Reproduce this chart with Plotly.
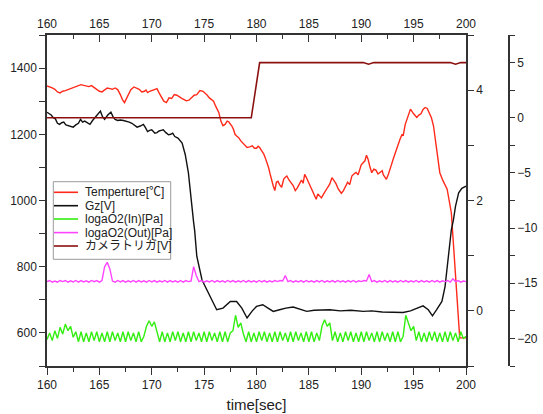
import numpy as np
import plotly.graph_objects as go

# ---------------- data ----------------
series_names = ["Temperture[\u2103]", "Gz[V]", "logaO2(In)[Pa]", "logaO2(Out)[Pa]", "カメラトリガ[V]"]

# temperature readings (time [s], value)
temp_pts = [
    (160.0, 1346), (160.25, 1344), (160.5, 1340), (160.75, 1336), (161.0, 1328), (161.25, 1325),
    (161.5, 1330), (161.75, 1332), (162.0, 1335), (162.25, 1338), (162.5, 1340), (162.75, 1342),
    (163.0, 1346), (163.25, 1350), (163.5, 1348), (163.75, 1345), (164.0, 1344), (164.25, 1347),
    (164.5, 1341), (164.75, 1336), (165.0, 1330), (165.25, 1328), (165.5, 1334), (165.75, 1340),
    (166.0, 1338), (166.25, 1336), (166.5, 1340), (166.75, 1335), (167.0, 1320), (167.2, 1305),
    (167.4, 1296), (167.6, 1310), (167.8, 1320), (168.0, 1335), (168.3, 1343), (168.55, 1340),
    (168.8, 1336), (169.05, 1328), (169.3, 1330), (169.45, 1334), (169.6, 1326), (169.8, 1330),
    (170.0, 1332), (170.25, 1336), (170.5, 1338), (170.7, 1325), (170.9, 1315), (171.15, 1300),
    (171.4, 1296), (171.65, 1310), (171.9, 1308), (172.15, 1320), (172.4, 1318), (172.65, 1312),
    (172.9, 1308), (173.1, 1305), (173.3, 1301), (173.55, 1303), (173.8, 1310), (174.05, 1318),
    (174.3, 1320), (174.6, 1332), (174.9, 1330), (175.1, 1325), (175.3, 1318), (175.5, 1310),
    (175.7, 1306), (175.9, 1300), (176.1, 1285), (176.4, 1266), (176.6, 1240), (176.8, 1226),
    (177.0, 1230), (177.2, 1240), (177.35, 1238), (177.5, 1232), (177.65, 1225), (177.8, 1215),
    (177.95, 1200), (178.1, 1195), (178.3, 1190), (178.5, 1180), (178.8, 1170), (179.1, 1160),
    (179.35, 1162), (179.6, 1165), (179.8, 1158), (180.0, 1158), (180.15, 1164), (180.3, 1160),
    (180.5, 1150), (180.7, 1140), (180.85, 1128), (181.0, 1115), (181.15, 1100), (181.3, 1080),
    (181.45, 1060), (181.6, 1044), (181.75, 1030), (181.9, 1055), (182.05, 1058), (182.2, 1048),
    (182.4, 1040), (182.6, 1065), (182.75, 1070), (182.9, 1074), (183.1, 1062), (183.3, 1055),
    (183.5, 1045), (183.7, 1030), (183.9, 1038), (184.1, 1050), (184.3, 1062), (184.45, 1052),
    (184.6, 1079), (184.75, 1070), (184.9, 1060), (185.1, 1042), (185.3, 1030), (185.5, 1018),
    (185.7, 1004), (185.85, 1020), (186.0, 1015), (186.2, 1008), (186.4, 1019), (186.6, 1032),
    (186.8, 1040), (187.0, 1050), (187.2, 1069), (187.4, 1060), (187.6, 1050), (187.8, 1035),
    (188.1, 1022), (188.3, 1030), (188.5, 1045), (188.7, 1055), (188.9, 1048), (189.1, 1074),
    (189.3, 1080), (189.5, 1085), (189.7, 1078), (189.9, 1100), (190.0, 1108), (190.2, 1115),
    (190.35, 1120), (190.5, 1137), (190.65, 1125), (190.8, 1105), (191.0, 1084), (191.2, 1095),
    (191.4, 1092), (191.6, 1080), (191.8, 1084), (192.0, 1090), (192.1, 1078), (192.25, 1070),
    (192.4, 1064), (192.6, 1080), (192.75, 1098), (192.9, 1110), (193.1, 1130), (193.3, 1150),
    (193.5, 1165), (193.7, 1185), (193.9, 1200), (194.0, 1195), (194.2, 1230), (194.4, 1250),
    (194.55, 1265), (194.7, 1276), (195.0, 1262), (195.15, 1255), (195.3, 1251), (195.5, 1258),
    (195.7, 1262), (195.9, 1275), (196.1, 1281), (196.3, 1278), (196.5, 1262), (196.7, 1250),
    (196.9, 1225), (197.2, 1150), (197.5, 1084), (197.8, 1060), (198.2, 1034), (198.6, 963),
    (199.0, 770), (199.4, 585), (200.0, 585)]

gz_pts = [
    (160.0, 3.60), (160.2, 3.57), (160.4, 3.55), (160.6, 3.50), (160.8, 3.48), (161.0, 3.40),
    (161.2, 3.38), (161.4, 3.41), (161.6, 3.42), (161.8, 3.37), (162.0, 3.36), (162.25, 3.35),
    (162.5, 3.33), (162.75, 3.37), (163.0, 3.40), (163.2, 3.47), (163.4, 3.42), (163.6, 3.44),
    (163.85, 3.41), (164.1, 3.38), (164.35, 3.45), (164.6, 3.50), (164.85, 3.55), (165.1, 3.62),
    (165.3, 3.52), (165.5, 3.47), (165.8, 3.55), (166.1, 3.60), (166.3, 3.52), (166.5, 3.47),
    (166.75, 3.45), (167.0, 3.46), (167.3, 3.45), (167.6, 3.44), (167.85, 3.42), (168.1, 3.40),
    (168.35, 3.36), (168.6, 3.33), (168.9, 3.35), (169.2, 3.38), (169.4, 3.32), (169.6, 3.25),
    (169.8, 3.27), (170.0, 3.28), (170.15, 3.25), (170.3, 3.22), (170.5, 3.23), (170.7, 3.26),
    (170.9, 3.27), (171.1, 3.28), (171.35, 3.23), (171.6, 3.19), (171.8, 3.20), (172.0, 3.22),
    (172.2, 3.16), (172.5, 3.13), (172.9, 3.04), (173.2, 2.83), (173.5, 2.50), (173.8, 1.89),
    (174.0, 1.60), (174.1, 1.45), (174.3, 0.99), (174.8, 0.56), (175.4, 0.32), (175.8, 0.15),
    (176.2, 0.02), (176.8, 0.05), (177.5, 0.17), (178.1, 0.17), (178.6, 0.05), (179.1, -0.13),
    (179.6, 0.00), (180.0, 0.08), (180.6, 0.11), (181.1, 0.05), (181.6, -0.01), (182.2, 0.02),
    (182.8, 0.05), (183.5, 0.07), (184.2, 0.02), (184.8, -0.01), (185.5, 0.01), (186.2, 0.02),
    (187.0, 0.02), (188.0, 0.00), (189.0, 0.01), (190.2, -0.01), (191.0, 0.00), (192.0, -0.02),
    (193.0, -0.02), (194.0, -0.03), (194.7, 0.00), (195.3, 0.05), (195.9, 0.09), (196.4, 0.02),
    (196.8, -0.09), (197.2, 0.02), (197.7, 0.17), (198.0, 0.44), (198.3, 0.99), (198.6, 1.47),
    (198.8, 1.65), (199.0, 1.90), (199.3, 2.14), (199.6, 2.22), (200.0, 2.26)]

o2_start, o2_step = 160.0, 0.25
o2_in_rows = [
    [-20.1, -19.5, -20.2, -19.3], [-20.0, -19.0, -19.6, -18.7], [-19.3, -18.9, -19.9, -19.4],
    [-20.3, -19.4, -20.3, -19.5], [-20.3, -19.4, -20.2, -19.4], [-20.3, -19.5, -20.3, -19.4],
    [-20.3, -19.4, -20.2, -19.5], [-20.3, -19.4, -20.3, -19.4], [-20.2, -19.5, -20.3, -19.4],
    [-20.3, -19.8, -18.9, -18.4], [-18.9, -18.5, -19.4, -20.3], [-19.4, -20.3, -19.5, -20.3],
    [-19.4, -20.2, -19.4, -20.3], [-19.5, -20.3, -19.4, -20.3], [-19.4, -20.2, -19.5, -20.3],
    [-19.4, -20.3, -19.4, -20.2], [-19.5, -20.3, -19.4, -20.3], [-19.4, -20.3, -19.5, -19.3],
    [-17.9, -19.0, -18.6, -19.6], [-20.3, -19.4, -20.3, -19.5], [-20.3, -19.4, -20.2, -19.4],
    [-20.3, -19.5, -20.3, -19.4], [-20.3, -19.4, -20.2, -19.5], [-20.3, -19.4, -20.3, -19.4],
    [-20.2, -19.5, -20.3, -19.4], [-20.3, -19.4, -20.3, -19.5], [-20.2, -18.9, -18.3, -18.9],
    [-18.6, -20.2, -19.4, -20.3], [-19.5, -20.3, -19.4, -20.2], [-19.4, -20.3, -19.5, -20.3],
    [-19.4, -20.3, -19.4, -20.2], [-19.5, -20.3, -19.4, -20.3], [-19.4, -20.2, -19.5, -20.3],
    [-19.4, -20.3, -19.4, -20.3], [-19.8, -17.9, -18.6, -19.3], [-18.9, -20.2, -19.4, -20.3],
    [-19.5, -20.3, -19.4, -20.2], [-19.4, -20.3, -19.5, -20.3], [-19.4, -20.3, -19.4, -20.2],
    [-19.5, -20.3, -19.4, -20.0], [-19.8]]
o2_out_rows = [
    [-14.85, -14.75, -14.90, -14.80], [-14.90, -14.75, -14.85, -14.75], [-14.90, -14.78, -14.88, -14.75],
    [-14.90, -14.76, -14.88, -14.78], [-14.90, -14.75, -14.86, -14.76], [-14.90, -14.75, -13.50, -13.10],
    [-13.70, -14.80, -14.90, -14.75], [-14.88, -14.76, -14.90, -14.78], [-14.88, -14.75, -14.90, -14.76],
    [-14.88, -14.78, -14.90, -14.75], [-14.88, -14.76, -14.90, -14.78], [-14.88, -14.75, -14.90, -14.76],
    [-14.88, -14.78, -14.90, -14.75], [-14.90, -14.76, -14.85, -14.80], [-13.50, -14.30, -14.85, -14.75],
    [-14.90, -14.78, -14.88, -14.75], [-14.90, -14.76, -14.88, -14.78], [-14.90, -14.75, -14.88, -14.76],
    [-14.90, -14.78, -14.88, -14.75], [-14.90, -14.76, -14.88, -14.78], [-14.90, -14.75, -14.88, -14.76],
    [-14.90, -14.78, -14.88, -14.75], [-14.85, -14.75, -14.80, -14.30], [-14.85, -14.75, -14.90, -14.78],
    [-14.88, -14.76, -14.90, -14.75], [-14.88, -14.78, -14.90, -14.76], [-14.88, -14.75, -14.90, -14.78],
    [-14.88, -14.76, -14.90, -14.75], [-14.88, -14.78, -14.90, -14.76], [-14.88, -14.75, -14.90, -14.78],
    [-14.85, -14.75, -14.80, -14.20], [-14.85, -14.76, -14.90, -14.78], [-14.88, -14.75, -14.90, -14.76],
    [-14.88, -14.78, -14.90, -14.75], [-14.88, -14.76, -14.90, -14.78], [-14.88, -14.75, -14.90, -14.76],
    [-14.88, -14.78, -14.90, -14.75], [-14.88, -14.76, -14.90, -14.78], [-14.85, -14.75, -14.90, -14.60],
    [-14.85, -14.75, -14.90, -14.80], [-14.85]]

cam_t = [160.0, 179.5, 180.3, 190.2, 190.7, 191.2, 198.5, 199.0, 199.5, 200.0]
cam_v = [0.0, 0.0, 5.0, 5.0, 4.85, 5.0, 5.0, 4.85, 5.0, 5.0]

x_ticks = [160, 165, 170, 175, 180, 185, 190, 195, 200]

temp_t = [p[0] for p in temp_pts]
temp_v = [p[1] for p in temp_pts]
gz_t = [p[0] for p in gz_pts]
gz_v = [p[1] for p in gz_pts]
o2_in = [v for row in o2_in_rows for v in row]
o2_out = [v for row in o2_out_rows for v in row]
o2_in_t = [o2_start + o2_step * i for i in range(len(o2_in))]
o2_out_t = [o2_start + o2_step * i for i in range(len(o2_out))]

# ---------------- layout geometry ----------------
W, H = 543, 414
ML, MR, MT, MB = 47, 10, 35, 48
PW, PH = W - ML - MR, H - MT - MB


def px2x(px):
    return (px - ML) / PW


def py2y(py):
    return (H - MB - py) / PH


FONT = "Liberation Sans, Arial, Noto Sans CJK JP, sans-serif"
AX = "#333333"
TXT = "#222222"
colors = ["#ff2a1a", "#111111", "#33ee11", "#ff44ff", "#8b1010"]

fig = go.Figure()
fig.add_trace(go.Scatter(x=temp_t, y=temp_v, mode="lines", line=dict(color=colors[0], width=1.4),
                         name=series_names[0], xaxis="x", yaxis="y"))
fig.add_trace(go.Scatter(x=gz_t, y=gz_v, mode="lines", line=dict(color=colors[1], width=1.4),
                         name=series_names[1], xaxis="x", yaxis="y2"))
fig.add_trace(go.Scatter(x=o2_in_t, y=o2_in, mode="lines", line=dict(color=colors[2], width=1.4),
                         name=series_names[2], xaxis="x", yaxis="y3"))
fig.add_trace(go.Scatter(x=o2_out_t, y=o2_out, mode="lines", line=dict(color=colors[3], width=1.4),
                         name=series_names[3], xaxis="x", yaxis="y3"))
fig.add_trace(go.Scatter(x=cam_t, y=cam_v, mode="lines", line=dict(color=colors[4], width=1.6),
                         name=series_names[4], xaxis="x", yaxis="y3"))
# invisible carrier so that the top (mirror) time axis is drawn
fig.add_trace(go.Scatter(x=[x_ticks[0], x_ticks[-1]], y=[None, None], mode="lines",
                         line=dict(width=0), opacity=0, hoverinfo="skip", showlegend=False,
                         xaxis="x2", yaxis="y"))

xdom = [0, px2x(466)]
axcommon = dict(showline=True, linecolor=AX, linewidth=1.5, showgrid=False, zeroline=False,
                automargin=False, tickcolor=AX, tickwidth=1.3,
                tickfont=dict(family=FONT, size=12, color=TXT))

fig.update_layout(
    width=W, height=H, margin=dict(l=ML, r=MR, t=MT, b=MB, autoexpand=False),
    paper_bgcolor="white", plot_bgcolor="white", showlegend=False,
    font=dict(family=FONT, size=12, color=TXT),
    xaxis=dict(domain=xdom, range=[160, 200], tickvals=x_ticks, ticks="outside", ticklen=7,
               minor=dict(ticks="outside", ticklen=4, dtick=2.5, tick0=160, tickcolor=AX, tickwidth=1.3),
               title=dict(text="time[sec]", font=dict(family=FONT, size=15, color=TXT), standoff=8),
               anchor="y", **axcommon),
    xaxis2=dict(domain=xdom, range=[160, 200], tickvals=x_ticks, ticks="inside", ticklen=7,
                minor=dict(ticks="inside", ticklen=4, dtick=2.5, tick0=160, tickcolor=AX, tickwidth=1.3),
                overlaying="x", side="top", anchor="y", ticklabelstandoff=0, **axcommon),
    yaxis=dict(domain=[0, 1], range=[500, 1500], tick0=600, dtick=200, ticks="outside", ticklen=6,
               minor=dict(ticks="outside", ticklen=6, dtick=100, tick0=500, tickcolor=AX, tickwidth=1.3),
               anchor="x", **axcommon),
    yaxis2=dict(range=[-1, 5], tick0=0, dtick=2, ticks="outside", ticklen=6,
                minor=dict(ticks="outside", ticklen=6, dtick=1, tick0=-1, tickcolor=AX, tickwidth=1.3),
                overlaying="y", side="right", anchor="x", **axcommon),
    yaxis3=dict(range=[-22.5, 7.5], tick0=-20, dtick=5, ticks="outside", ticklen=5,
                minor=dict(ticks="outside", ticklen=5, dtick=2.5, tick0=-22.5, tickcolor=AX, tickwidth=1.3),
                overlaying="y", side="right", anchor="free", position=px2x(509), **axcommon),
)

# ---------------- manual legend ----------------
shapes = [dict(type="rect", xref="paper", yref="paper", x0=px2x(53.3), x1=px2x(170.7),
               y0=py2y(259.3), y1=py2y(181.7), line=dict(color="#9a9a9a", width=1),
               fillcolor="white", layer="above")]
annotations = []
entry_y = [192.3, 205.7, 219.0, 232.6, 246.0]
for name, col, ey in zip(series_names, colors, entry_y):
    shapes.append(dict(type="line", xref="paper", yref="paper", x0=px2x(54), x1=px2x(78),
                       y0=py2y(ey), y1=py2y(ey), line=dict(color=col, width=1.6), layer="above"))
    annotations.append(dict(xref="paper", yref="paper", x=px2x(82.5), y=py2y(ey), text=name,
                            showarrow=False, xanchor="left", yanchor="middle",
                            font=dict(family=FONT, size=12, color=TXT)))
fig.update_layout(shapes=shapes, annotations=annotations)

fig.write_html("out.html")
